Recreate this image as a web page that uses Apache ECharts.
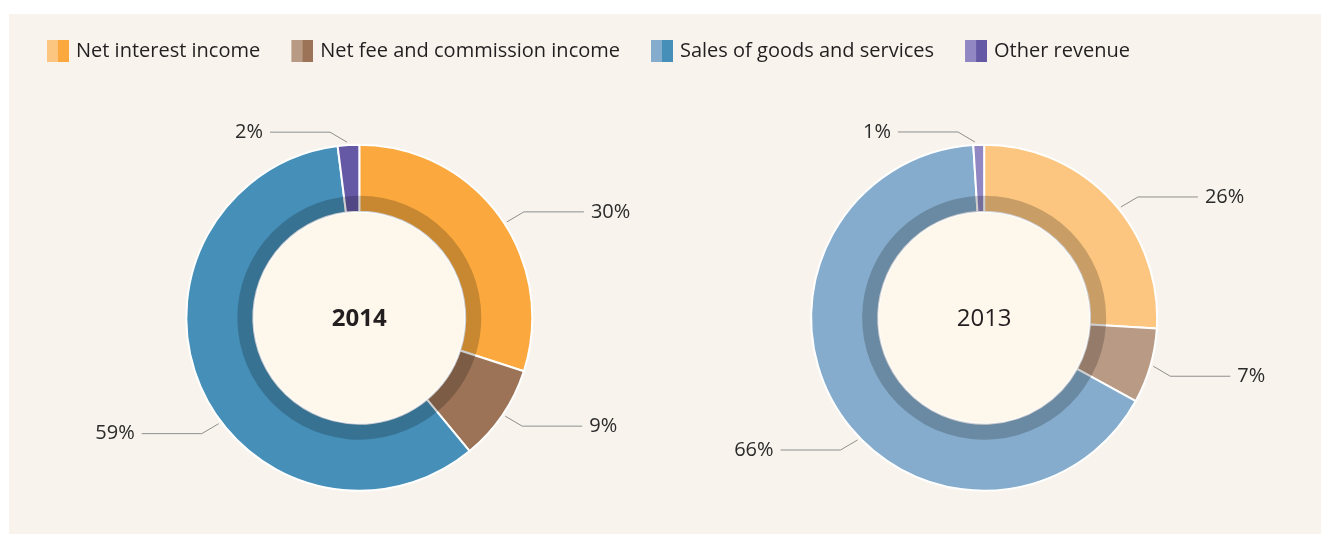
<!DOCTYPE html>
<html>
<head>
<meta charset="utf-8">
<script src="https://cdn.jsdelivr.net/npm/echarts@6/dist/echarts.min.js"></script>
<style>
html,body{margin:0;padding:0;background:#fff;}
#chart{width:1321px;height:534px;}
</style>
</head>
<body>
<div id="chart"></div>
<script>
// ---- data ----
const categories = ['Net interest income', 'Net fee and commission income', 'Sales of goods and services', 'Other revenue'];
const values2014 = [30, 9, 59, 2];
const values2013 = [26, 7, 66, 1];
const yearLabels = ['2014', '2013'];

// ---- styles ----
const colors2014 = ['#FBA93E', '#9C7356', '#458FB8', '#6559A5'];
const colors2013 = ['#FCC680', '#B99A85', '#85ACCC', '#9187C2'];
// angle (deg, clockwise from 12 o'clock) where each label line leaves the ring
const labelAngles = [[57, 124, 233, 356], [51, 106, 226, 357]];
const FONT = '"Open Sans", "Noto Sans", sans-serif';
const R_IN = 106, R_OUT = 173, R_BAND = 122;
const centers = [['27.2%', '59.5%'], ['74.5%', '59.5%']];

function legendIcon(i) {
  const svg = "<svg xmlns='http://www.w3.org/2000/svg' width='22' height='22'>" +
    "<rect x='0' y='0' width='11' height='22' fill='" + colors2013[i] + "'/>" +
    "<rect x='11' y='0' width='11' height='22' fill='" + colors2014[i] + "'/></svg>";
  return 'image://data:image/svg+xml;charset=utf-8,' + encodeURIComponent(svg);
}

function makeData(vals, cols) {
  return categories.map((c, i) => ({ name: c, value: vals[i], itemStyle: { color: cols[i] } }));
}

const chartDom = document.getElementById('chart');
const chart = echarts.init(chartDom);
const W = chart.getWidth(), H = chart.getHeight();

function makeLabelLayout(pieIdx) {
  const cx = parseFloat(centers[pieIdx][0]) / 100 * W;
  const cy = parseFloat(centers[pieIdx][1]) / 100 * H;
  return function (params) {
    const a = labelAngles[pieIdx][params.dataIndex] * Math.PI / 180;
    const s = Math.sin(a), c = Math.cos(a);
    const r0 = R_OUT + 3;
    const dir = s >= 0 ? 1 : -1;
    const vdir = c >= 0 ? -1 : 1;
    const p0 = [cx + r0 * s, cy - r0 * c];
    const p1 = [p0[0] + dir * 17, p0[1] + vdir * 10];
    const p2 = [p1[0] + dir * 60, p1[1]];
    return {
      x: p2[0] + dir * 7,
      y: p2[1],
      align: dir > 0 ? 'left' : 'right',
      verticalAlign: 'middle',
      labelLinePoints: [p0, p1, p2]
    };
  };
}

function ringSeries(vals, cols, pieIdx) {
  const center = centers[pieIdx];
  return [{
    type: 'pie',
    center: center,
    radius: [R_IN, R_OUT],
    startAngle: 90,
    clockwise: true,
    avoidLabelOverlap: false,
    data: makeData(vals, cols),
    itemStyle: { borderColor: '#ffffff', borderWidth: 2 },
    label: {
      show: true,
      formatter: '{c}%',
      fontFamily: FONT,
      fontSize: 20,
      color: '#2b2b2b'
    },
    labelLine: {
      show: true,
      length: 20,
      length2: 60,
      lineStyle: { color: '#8f8f8f', width: 1 }
    },
    labelLayout: makeLabelLayout(pieIdx),
    emphasis: { disabled: true }
  }, {
    type: 'pie',
    center: center,
    radius: [R_IN, R_BAND],
    startAngle: 90,
    clockwise: true,
    silent: true,
    data: categories.map((c, i) => ({ name: c, value: vals[i] })),
    itemStyle: { color: 'rgba(0,0,0,0.2)', borderWidth: 0 },
    label: { show: false },
    labelLine: { show: false },
    emphasis: { disabled: true }
  }];
}

const c0x = parseFloat(centers[0][0]) / 100 * W, c1x = parseFloat(centers[1][0]) / 100 * W;
const cyy = parseFloat(centers[0][1]) / 100 * H;

chart.setOption({
  animation: false,
  backgroundColor: '#ffffff',
  graphic: [
    { type: 'rect', z: -10, shape: { x: 9, y: 14, width: 1312, height: 520 }, style: { fill: '#F8F4ED' } },
    { type: 'circle', z: -5, shape: { cx: c0x, cy: cyy, r: R_IN }, style: { fill: '#FDF7EC' } },
    { type: 'circle', z: -5, shape: { cx: c1x, cy: cyy, r: R_IN }, style: { fill: '#FDF7EC' } },
    { type: 'text', z: 10, x: c0x, y: cyy + 1, style: { text: yearLabels[0], fontFamily: FONT, fontSize: 24, fontWeight: 'bold', fill: '#231F20', align: 'center', verticalAlign: 'middle' } },
    { type: 'text', z: 10, x: c1x, y: cyy + 1, style: { text: yearLabels[1], fontFamily: FONT, fontSize: 24, fontWeight: 'normal', fill: '#231F20', align: 'center', verticalAlign: 'middle' } }
  ],
  legend: {
    left: 42,
    top: 35,
    itemWidth: 22,
    itemHeight: 22,
    itemGap: 31,
    selectedMode: false,
    textStyle: { fontFamily: FONT, fontSize: 20, color: '#231F20', padding: [0, 0, 0, 2] },
    data: categories.map((c, i) => ({ name: c, icon: legendIcon(i) }))
  },
  series: [].concat(ringSeries(values2014, colors2014, 0), ringSeries(values2013, colors2013, 1))
});
</script>
</body>
</html>
